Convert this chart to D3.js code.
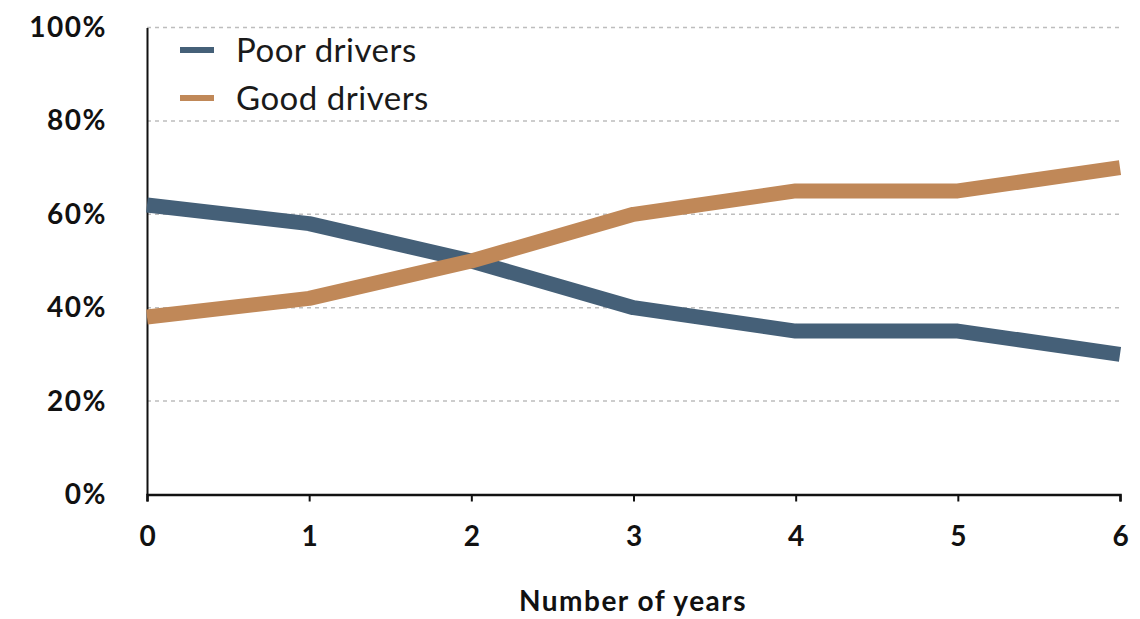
<!DOCTYPE html>
<html>
<head>
<meta charset="utf-8">
<script src="https://cdn.jsdelivr.net/npm/d3@7"></script>
<style>
  body { margin: 0; background: #fff; }
  text { font-family: Lato, "Open Sans", sans-serif; }
</style>
</head>
<body>
<div id="chart"></div>
<script>
'use strict';

const years = [0, 1, 2, 3, 4, 5, 6];
const poorDrivers = [62, 58, 50, 40, 35, 35, 30];
const goodDrivers = [38, 42, 50, 60, 65, 65, 70];
const yTicks = [0, 20, 40, 60, 80, 100];
const seriesNames = ['Poor drivers', 'Good drivers'];
const seriesColors = ['#456078', '#c08858'];

const msm = {
  width: 1140,
  height: 619,
  left: 147,
  right: 1120,
  top: 27.5,
  bottom: 494.5
};

const svg = d3.select('#chart')
  .append('svg')
  .attr('width', msm.width)
  .attr('height', msm.height);

const xScale = d3.scaleLinear()
  .domain([0, 6])
  .range([msm.left, msm.right]);

const yScale = d3.scaleLinear()
  .domain([0, 100])
  .range([msm.bottom, msm.top]);

// dashed grid lines
svg.append('g')
  .selectAll('line')
  .data(yTicks.filter((d) => d > 0))
  .enter()
  .append('line')
    .attr('x1', msm.left)
    .attr('x2', msm.right)
    .attr('y1', (d) => yScale(d))
    .attr('y2', (d) => yScale(d))
    .attr('stroke', '#bdbdbd')
    .attr('stroke-width', 1.5)
    .attr('stroke-dasharray', '4,4');

// y axis, labels only
const yAxis = d3.axisLeft(yScale)
  .tickValues(yTicks)
  .tickFormat((d) => d + '%')
  .tickSize(0)
  .tickPadding(40);
const gy = svg.append('g')
  .attr('transform', 'translate(' + msm.left + ',0)')
  .call(yAxis);
gy.select('.domain').attr('stroke', '#111').attr('stroke-width', 2);
gy.selectAll('text')
  .attr('fill', '#111')
  .style('font-size', '28px')
  .style('letter-spacing', '1.5px')
  .style('font-weight', 'bold');

// x axis
const xAxis = d3.axisBottom(xScale)
  .tickValues(years)
  .tickFormat(d3.format('d'))
  .tickSizeInner(7)
  .tickSizeOuter(7)
  .tickPadding(25);
const gx = svg.append('g')
  .attr('transform', 'translate(0,' + msm.bottom + ')')
  .call(xAxis);
gx.select('.domain').attr('stroke', '#111').attr('stroke-width', 2.5);
gx.selectAll('.tick line').attr('stroke', '#111').attr('stroke-width', 2);
gx.selectAll('text')
  .attr('fill', '#111')
  .style('font-size', '28px')
  .style('font-weight', 'bold');

svg.append('text')
  .attr('x', 633)
  .attr('y', 611)
  .attr('text-anchor', 'middle')
  .attr('fill', '#111')
  .style('font-size', '28px')
  .style('letter-spacing', '1.5px')
  .style('font-weight', 'bold')
  .text('Number of years');

// lines
const line = d3.line()
  .x((d, i) => xScale(years[i]))
  .y((d) => yScale(d));

[poorDrivers, goodDrivers].forEach((series, i) => {
  svg.append('path')
    .datum(series)
    .attr('fill', 'none')
    .attr('stroke', seriesColors[i])
    .attr('stroke-width', 15)
    .attr('stroke-linejoin', 'round')
    .attr('d', line);
});

// legend
const legend = svg.append('g')
  .selectAll('g')
  .data(seriesNames)
  .enter()
  .append('g')
    .attr('transform', (d, i) => 'translate(180,' + (50 + i * 48) + ')');
legend.append('line')
  .attr('x1', 0)
  .attr('x2', 34)
  .attr('stroke', (d, i) => seriesColors[i])
  .attr('stroke-width', 6);
legend.append('text')
  .attr('x', 56)
  .attr('y', 12)
  .attr('fill', '#1a1a1a')
  .style('font-size', '33px')
  .style('letter-spacing', '0.5px')
  .text((d) => d);
</script>
</body>
</html>
